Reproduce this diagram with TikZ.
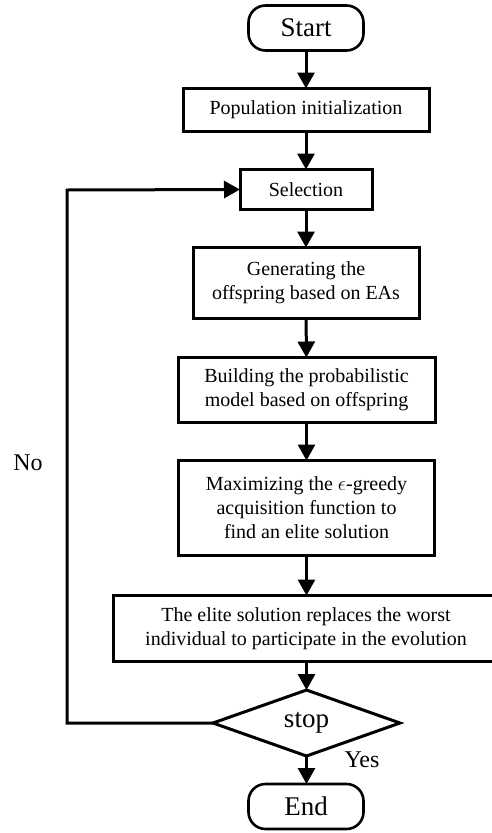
\documentclass[tikz,border=0pt]{standalone}
\usepackage{fontspec}
\setmainfont{Liberation Serif}
\usetikzlibrary{shapes.geometric,arrows.meta}
\begin{document}
\begin{tikzpicture}[x=1pt,y=-1pt,
  every node/.style={inner sep=0pt, outer sep=0pt},
  txt/.style={font=\fontsize{20}{24}\selectfont, align=center},
  big/.style={font=\fontsize{27}{30}\selectfont},
  lbl/.style={font=\fontsize{24}{28}\selectfont},
  procbox/.style={draw, line width=3pt, txt, minimum width=#1},
  termbox/.style={draw, line width=2.6pt, rounded corners=17pt, big, minimum width=115pt, minimum height=45pt},
  decbox/.style={draw, diamond, line width=3pt, big, minimum width=187pt, minimum height=48pt},
  flow/.style={line width=3pt, -{Triangle[length=16pt,width=17pt]}},
  line/.style={line width=3pt}
]
\useasboundingbox (0,0) rectangle (492,833);
\node[termbox] (start) at (306,28) {Start};
\node[procbox=246pt, minimum height=43pt] (pop) at (306,110) {Population initialization};
\node[procbox=132pt, minimum height=40pt] (sel) at (306,189.5) {Selection};
\node[procbox=226pt, minimum height=71pt] (gen) at (306,283) {Generating the\\offspring based on EAs};
\node[procbox=257pt, minimum height=65pt] (build) at (306.5,390) {Building the probabilistic\\model based on offspring};
\node[procbox=256pt, minimum height=95pt] (max) at (306.5,508) {Maximizing the $\epsilon$-greedy\\acquisition function to\\find an elite solution};
\node[procbox=385pt, minimum height=66pt] (elite) at (306,628.5) {The elite solution replaces the worst\\individual to participate in the evolution};
\node[decbox] (stop) at (306.5,723) {stop};
\node[termbox] (end) at (306,806.5) {End};
\node[lbl] (yes) at (362,760) {Yes};
\node[lbl] (no) at (28,463) {No};
\coordinate (lb) at (67,723);
\coordinate (lt) at (67,190);

\draw[flow] (start) -- (pop);
\draw[flow] (pop) -- (sel);
\draw[flow] (sel) -- (gen);
\draw[flow] (gen) -- (build);
\draw[flow] (build.south -| max.north) -- (max);
\draw[flow] (max) -- (elite.north -| max.south);
\draw[flow] (elite.south -| stop.north) -- (stop);
\draw[flow] (stop) -- (end.north -| stop.south);
\draw[flow] (stop.west) -- (lb) -- (lt) -- (sel.west);
\end{tikzpicture}
\end{document}
